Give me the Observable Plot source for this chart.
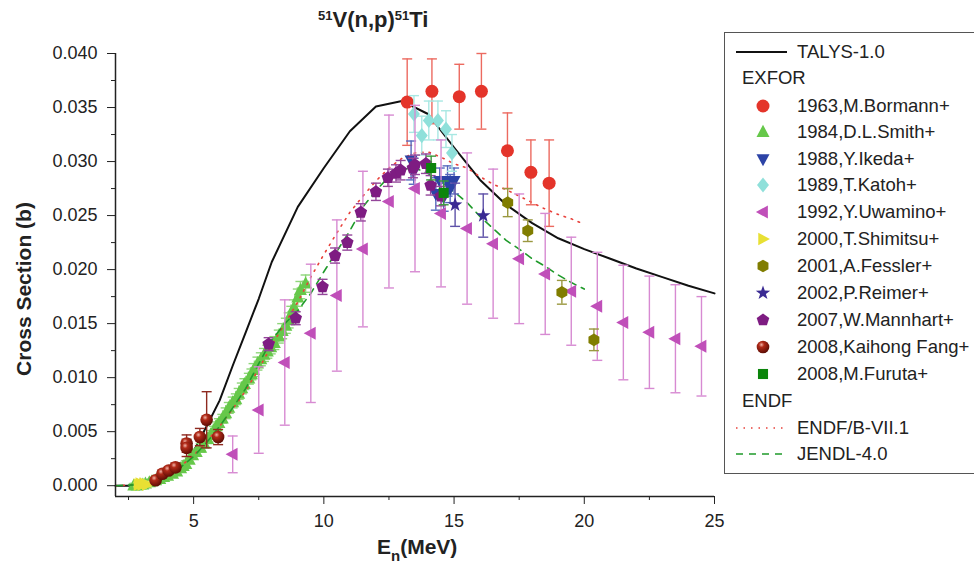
<!DOCTYPE html>
<html><head><meta charset="utf-8">
<script src="https://cdn.jsdelivr.net/npm/d3@7"></script>
<script src="https://cdn.jsdelivr.net/npm/@observablehq/plot@0.6"></script>
<style>
body{margin:0;background:#fff;font-family:"Liberation Sans",Arial,sans-serif;color:#222;}
#wrap{position:relative;width:974px;height:564px;overflow:hidden;background:#fff;}
#chart{position:absolute;left:0;top:0;}
.t{position:absolute;white-space:nowrap;font-weight:bold;font-size:21px;line-height:1;}
#legend{position:absolute;left:724px;top:32px;width:270px;height:442px;border:1px solid #555;box-sizing:border-box;}
.li{position:absolute;left:0;height:24px;font-size:18.5px;line-height:24px;white-space:nowrap;}
.li svg{position:absolute;top:0;}
.li span{position:absolute;left:72px;top:0;}
.hd{position:absolute;left:17px;font-size:18.5px;line-height:24px;}
</style></head>
<body><div id="wrap"><div id="chart"></div>
<div class="t" style="left:318px;top:9px;font-size:22px;"><sup style="font-size:13px;vertical-align:7px;line-height:0">51</sup>V(n,p)<sup style="font-size:13px;vertical-align:7px;line-height:0">51</sup>Ti</div>
<div class="t" style="left:23px;top:289px;transform:translate(-50%,-50%) rotate(-90deg);">Cross Section (b)</div>
<div class="t" style="left:377px;top:536px;">E<sub style="font-size:15px;vertical-align:-7px;line-height:0">n</sub>(MeV)</div>
<div id="legend"></div>
</div>
<script>
// ---------- axis ticks ----------
const xMajor = [5, 10, 15, 20, 25];
const xMinor = [2.5, 7.5, 12.5, 17.5, 22.5];
const yMajor = [0, 0.005, 0.010, 0.015, 0.020, 0.025, 0.030, 0.035, 0.040];
const yMinor = [0.0025, 0.0075, 0.0125, 0.0175, 0.0225, 0.0275, 0.0325, 0.0375];

// ---------- evaluated curves ----------
const talysE  = [2, 3, 3.5, 4, 4.5, 5, 5.5, 6, 6.5, 7, 7.5, 8, 9, 10, 11, 12, 13, 14, 15, 16, 17, 18, 19, 20, 21, 22, 23, 24, 25];
const talysXS = [0, 0.0000, 0.0002, 0.0008, 0.0018, 0.0032, 0.0055, 0.0079, 0.0111, 0.0142, 0.0173, 0.0207, 0.0258, 0.0294, 0.0328, 0.0351, 0.0356, 0.0344, 0.0313, 0.0283, 0.0260, 0.0243, 0.0229, 0.0219, 0.0210, 0.0201, 0.0193, 0.0185, 0.0178];

const endfE  = [2, 3, 3.5, 4, 4.5, 5, 5.5, 6, 6.5, 7, 7.5, 8, 8.5, 9, 9.5, 10, 10.5, 11, 11.5, 12, 12.5, 13, 13.5, 14, 14.5, 15, 15.5, 16, 16.5, 17, 18, 18.5, 19, 19.5, 20];
const endfXS = [0, 0.0001, 0.0004, 0.0010, 0.0018, 0.0028, 0.0041, 0.0055, 0.0071, 0.0088, 0.0108, 0.0130, 0.0150, 0.0170, 0.0193, 0.0214, 0.0234, 0.0253, 0.0268, 0.0282, 0.0294, 0.0303, 0.0308, 0.0309, 0.0304, 0.0298, 0.0294, 0.0286, 0.0279, 0.0274, 0.0262, 0.0256, 0.0251, 0.0247, 0.0242];

const jendlE  = [2, 3, 3.5, 4, 4.5, 5, 5.5, 6, 6.5, 7, 7.5, 8, 8.5, 9, 9.5, 10, 10.5, 11, 11.5, 12, 12.5, 13, 13.5, 14, 14.5, 15, 15.5, 16, 16.5, 17, 17.5, 18, 18.5, 19, 19.5, 20];
const jendlXS = [0, 0.0001, 0.0004, 0.0010, 0.0017, 0.0027, 0.0040, 0.0055, 0.0072, 0.0090, 0.0113, 0.0135, 0.0150, 0.0162, 0.0178, 0.0198, 0.0217, 0.0236, 0.0258, 0.0273, 0.0286, 0.0293, 0.0294, 0.0289, 0.0280, 0.0272, 0.0262, 0.0249, 0.0238, 0.0227, 0.0219, 0.0210, 0.0203, 0.0195, 0.0188, 0.0182];

// ---------- EXFOR data: [E (MeV), sigma (b), dsigma (b)] ----------
const bormann = [[13.2,0.0355,0.0040],[14.15,0.0365,0.0030],[15.2,0.0360,0.0030],[16.05,0.0365,0.0035],[17.05,0.0310,0.0035],[17.95,0.0290,0.0030],[18.65,0.0280,0.0040]];
// D.L. Smith: [E, sigma, dsigma, dE]
const smith = [[2.7,0.0000,0.0002,0.12],[2.83,0.0000,0.0002,0.12],[2.95,0.0001,0.0002,0.12],[3.05,0.0001,0.0002,0.12],[3.15,0.0002,0.0002,0.12],[3.3,0.0003,0.0002,0.12],[3.4,0.0004,0.0002,0.12],[3.54,0.0005,0.0002,0.12],[3.7,0.0006,0.0002,0.12],[3.85,0.0008,0.0003,0.12],[4.0,0.0009,0.0003,0.12],[4.19,0.0011,0.0003,0.12],[4.35,0.0013,0.0003,0.12],[4.5,0.0016,0.0003,0.12],[4.6,0.0018,0.0003,0.12],[4.7,0.0020,0.0003,0.12],[4.83,0.0024,0.0003,0.12],[4.96,0.0028,0.0003,0.12],[5.1,0.0031,0.0003,0.12],[5.27,0.0035,0.0004,0.12],[5.4,0.0039,0.0004,0.12],[5.54,0.0043,0.0004,0.12],[5.65,0.0047,0.0004,0.12],[5.77,0.0051,0.0004,0.12],[5.87,0.0055,0.0004,0.12],[5.97,0.0058,0.0004,0.12],[6.1,0.0062,0.0004,0.12],[6.23,0.0067,0.0005,0.12],[6.35,0.0072,0.0005,0.12],[6.5,0.0077,0.0005,0.12],[6.62,0.0080,0.0005,0.12],[6.73,0.0085,0.0005,0.12],[6.85,0.0090,0.0005,0.12],[6.95,0.0094,0.0005,0.12],[7.12,0.0099,0.0005,0.12],[7.22,0.0103,0.0005,0.12],[7.3,0.0107,0.0006,0.12],[7.45,0.0113,0.0006,0.12],[7.58,0.0117,0.0006,0.12],[7.7,0.0121,0.0006,0.12],[7.83,0.0124,0.0006,0.12],[7.96,0.0128,0.0006,0.12],[8.1,0.0132,0.0006,0.12],[8.27,0.0138,0.0006,0.12],[8.4,0.0143,0.0007,0.12],[8.54,0.0148,0.0007,0.12],[8.65,0.0153,0.0007,0.12],[8.75,0.0159,0.0007,0.12],[8.85,0.0165,0.0007,0.12],[9.0,0.0174,0.0008,0.12],[9.1,0.0181,0.0008,0.12],[9.3,0.0187,0.0008,0.12]];
const ikeda = [[13.35,0.0301,0.0018],[13.45,0.0291,0.0012],[14.45,0.0282,0.0012],[14.75,0.0282,0.0014],[15.0,0.0282,0.0012],[14.3,0.0270,0.0015],[14.6,0.0267,0.0013],[14.85,0.0275,0.0013]];
const katoh = [[13.46,0.0344,0.0017],[13.76,0.0324,0.0018],[14.03,0.0338,0.0018],[14.38,0.0338,0.0018],[14.69,0.0330,0.0017],[14.92,0.0308,0.0017]];
const uwamino = [[6.5,0.0029,0.0017],[7.5,0.0070,0.0040],[8.5,0.0114,0.0058],[9.5,0.0141,0.0064],[10.5,0.0176,0.0070],[11.5,0.0219,0.0072],[12.5,0.0263,0.0080],[13.5,0.0275,0.0077],[14.5,0.0252,0.0068],[15.5,0.0238,0.0070],[16.5,0.0224,0.0069],[17.5,0.0210,0.0060],[18.5,0.0196,0.0056],[19.5,0.0180,0.0050],[20.5,0.0166,0.0050],[21.5,0.0151,0.0053],[22.5,0.0142,0.0052],[23.5,0.0136,0.0050],[24.5,0.0129,0.0046]];
const shimitsu = [[2.88,0.0001,0.0002],[2.95,0.0002,0.0003],[3.02,0.0001,0.0003],[3.1,0.0002,0.0002],[3.2,0.0001,0.0002]];
const fessler = [[17.06,0.0262,0.0013],[17.83,0.0236,0.0010],[19.14,0.0179,0.0011],[20.37,0.0135,0.0010]];
const reimer = [[15.04,0.0260,0.0020],[16.12,0.0250,0.0020]];
const mannhart = [[7.88,0.0131,0.0006],[8.92,0.0155,0.0006],[9.95,0.0184,0.0007],[10.43,0.0213,0.0007],[10.9,0.0225,0.0007],[11.42,0.0253,0.0008],[12.0,0.0272,0.0008],[12.46,0.0285,0.0008],[12.77,0.0289,0.0008],[12.95,0.0292,0.0009],[13.42,0.0294,0.0009],[13.5,0.0297,0.0009],[13.92,0.0298,0.0009],[14.1,0.0278,0.0009],[14.5,0.0268,0.0009]];
const kaihong = [[3.54,0.0005,0.0002],[3.8,0.0011,0.0003],[4.04,0.0014,0.0003],[4.3,0.0017,0.0004],[4.73,0.0039,0.0008],[4.73,0.0035,0.0008],[5.24,0.0045,0.0008],[5.5,0.0061,0.0026],[5.94,0.0045,0.0007]];
const furuta = [[14.12,0.0294,0.0011],[14.6,0.0271,0.0011]];

// ---------- symbols ----------
function poly(pts){return {draw(ctx,size){const s=Math.sqrt(size/Math.PI);pts.forEach(([a,b],i)=>i?ctx.lineTo(a*s,b*s):ctx.moveTo(a*s,b*s));ctx.closePath();}};}
const symUp = poly([[0,-1.1],[1.0,0.75],[-1.0,0.75]]);
const symDown = poly([[0,1.1],[1.0,-0.75],[-1.0,-0.75]]);
const symLeft = poly([[-1.1,0],[0.75,-1.0],[0.75,1.0]]);
const symRight = poly([[1.1,0],[-0.75,-1.0],[-0.75,1.0]]);
const symDiamond = poly([[0,-1.2],[0.95,0],[0,1.2],[-0.95,0]]);
const symSquare = poly([[-0.8,-0.8],[0.8,-0.8],[0.8,0.8],[-0.8,0.8]]);
const symPent = poly(d3.range(5).map(i=>{const a=-Math.PI/2+i*2*Math.PI/5;return [1.05*Math.cos(a),1.05*Math.sin(a)];}));
const symHex = poly(d3.range(6).map(i=>{const a=-Math.PI/2+i*Math.PI/3;return [Math.cos(a),Math.sin(a)];}));
const symStar = poly(d3.range(10).map(i=>{const a=-Math.PI/2+i*Math.PI/5;const r=i%2?0.48:1.2;return [r*Math.cos(a),r*Math.sin(a)];}));
const symCircle = d3.symbolCircle;
const symCap = {draw(ctx,size){const s=Math.sqrt(size/Math.PI);ctx.moveTo(-s,0);ctx.lineTo(s,0);}};
const symVCap = {draw(ctx,size){const s=Math.sqrt(size/Math.PI);ctx.moveTo(0,-s);ctx.lineTo(0,s);}};

const series = [
  {name:"1963,M.Bormann+", data:bormann, color:"#e4342a", bar:"#ec6a60", sym:symCircle, r:6.5},
  {name:"1984,D.L.Smith+", data:smith, color:"#66c84a", bar:"#8fd67a", sym:symUp, r:6.5},
  {name:"1988,Y.Ikeda+", data:ikeda, color:"#2c43a6", bar:"#5668bd", sym:symDown, r:6.5},
  {name:"1989,T.Katoh+", data:katoh, color:"#8fe0da", bar:"#a8e8e3", sym:symDiamond, r:6.3},
  {name:"1992,Y.Uwamino+", data:uwamino, color:"#c04fb9", bar:"#d78ad2", sym:symLeft, r:6.5},
  {name:"2000,T.Shimitsu+", data:shimitsu, color:"#e8e034", bar:"#ede36a", sym:symRight, r:6.3},
  {name:"2001,A.Fessler+", data:fessler, color:"#807d00", bar:"#9a9840", sym:symHex, r:6.3},
  {name:"2002,P.Reimer+", data:reimer, color:"#3a2a93", bar:"#5e51a8", sym:symStar, r:6.3},
  {name:"2007,W.Mannhart+", data:mannhart, color:"#7e1c82", bar:"#94469a", sym:symPent, r:6.3},
  {name:"2008,Kaihong Fang+", data:kaihong, color:"url(#ball)", bar:"#8e2a20", sym:symCircle, r:6.3},
  {name:"2008,M.Furuta+", data:furuta, color:"#0b850b", bar:"#3a9a3a", sym:symSquare, r:6.3}
];

function seriesMarks(s){
  const m = [
    Plot.ruleX(s.data,{x:d=>d[0],y1:d=>d[1]-d[2],y2:d=>d[1]+d[2],stroke:s.bar,strokeWidth:1.4}),
    Plot.dot(s.data,{x:d=>d[0],y:d=>d[1]+d[2],symbol:symCap,r:5,stroke:s.bar,strokeWidth:1.4,fill:"none"}),
    Plot.dot(s.data,{x:d=>d[0],y:d=>d[1]-d[2],symbol:symCap,r:5,stroke:s.bar,strokeWidth:1.4,fill:"none"})
  ];
  if (s.data[0].length > 3) {
    m.push(Plot.ruleY(s.data,{y:d=>d[1],x1:d=>d[0]-d[3],x2:d=>d[0]+d[3],stroke:s.bar,strokeWidth:1.2}));
    m.push(Plot.dot(s.data,{x:d=>d[0]-d[3],y:d=>d[1],symbol:symVCap,r:3,stroke:s.bar,strokeWidth:1.2,fill:"none"}));
    m.push(Plot.dot(s.data,{x:d=>d[0]+d[3],y:d=>d[1],symbol:symVCap,r:3,stroke:s.bar,strokeWidth:1.2,fill:"none"}));
  }
  m.push(Plot.dot(s.data,{x:d=>d[0],y:d=>d[1],symbol:s.sym,r:s.r,fill:s.color,stroke:"none"}));
  return m;
}

const talys = talysE.map((e,i)=>({e, xs:talysXS[i]}));
const endf = endfE.map((e,i)=>({e, xs:endfXS[i]}));
const jendl = jendlE.map((e,i)=>({e, xs:jendlXS[i]}));

const smithS = series[1];
const others = series.filter(s=>s!==smithS);

const plot = Plot.plot({
  width:974, height:564,
  marginLeft:115, marginRight:260, marginTop:53, marginBottom:68,
  x:{domain:[2,25]},
  y:{domain:[-0.001,0.040]},
  style:{fontFamily:"'Liberation Sans', Arial, sans-serif", fontSize:"18px", background:"white", color:"#222", overflow:"visible"},
  marks:[
    Plot.line(talys,{x:"e",y:"xs",stroke:"#111",strokeWidth:2}),
    ...seriesMarks(smithS),
    Plot.line(endf,{x:"e",y:"xs",stroke:"#e8403a",strokeWidth:1.6,strokeDasharray:"1.5,6"}),
    Plot.line(jendl,{x:"e",y:"xs",stroke:"#1f9a2a",strokeWidth:1.6,strokeDasharray:"7,6"}),
    ...others.flatMap(seriesMarks),
    Plot.ruleX([2],{y1:-0.001,y2:0.040,stroke:"#222",strokeWidth:1.5}),
    Plot.ruleY([-0.001],{x1:2,x2:25,stroke:"#222",strokeWidth:1.5}),
    Plot.axisY({ticks:yMajor,tickSize:8,tickPadding:10,tickFormat:d3.format(".3f"),label:null,fontSize:18,stroke:"#222"}),
    Plot.axisY({ticks:yMinor,tickSize:4,tickFormat:()=>"",label:null,stroke:"#222"}),
    Plot.axisX({ticks:xMajor,tickSize:8,tickPadding:10,tickFormat:d=>String(d),label:null,fontSize:18,stroke:"#222"}),
    Plot.axisX({ticks:xMinor,tickSize:4,tickFormat:()=>"",label:null,stroke:"#222"})
  ]
});

// gradient for the 3-D balls
const defsHTML = '<radialGradient id="ball" cx="0.38" cy="0.32" r="0.7"><stop offset="0" stop-color="#f2b4a8"/><stop offset="0.3" stop-color="#b02a18"/><stop offset="1" stop-color="#5a0c04"/></radialGradient>';
const ns = "http://www.w3.org/2000/svg";
const defs = document.createElementNS(ns,"defs");
defs.innerHTML = defsHTML;
plot.insertBefore(defs, plot.firstChild);
document.getElementById("chart").appendChild(plot);

// ---------- legend ----------
const leg = document.getElementById("legend");
const top0 = 32;
function symPath(sym, r){const p=d3.path();sym.draw(p,Math.PI*r*r);return p.toString();}
function addRow(cy, svgInner, label){
  const div=document.createElement("div");div.className="li";div.style.top=(cy-top0-12-1)+"px";div.style.width="260px";
  div.innerHTML='<svg width="70" height="24" style="left:0">'+svgInner+'</svg><span>'+label+'</span>';
  leg.appendChild(div);
}
function addHead(cy,label){const d=document.createElement("div");d.className="hd";d.style.top=(cy-top0-12-1)+"px";d.textContent=label;leg.appendChild(d);}
addRow(52,'<line x1="11" x2="62" y1="12" y2="12" stroke="#111" stroke-width="2"/>',"TALYS-1.0");
addHead(78,"EXFOR");
const rowY=[106,132,158.5,185,212,239,266,293,320,347,374];
series.forEach((s,i)=>{
  const fill = s.color.startsWith("url") ? "url(#ballL)" : s.color;
  const extra = s.color.startsWith("url") ? '<defs><radialGradient id="ballL" cx="0.38" cy="0.32" r="0.7"><stop offset="0" stop-color="#f2b4a8"/><stop offset="0.3" stop-color="#b02a18"/><stop offset="1" stop-color="#5a0c04"/></radialGradient></defs>' : '';
  addRow(rowY[i], extra+'<path transform="translate(38,12)" d="'+symPath(s.sym,s.r)+'" fill="'+fill+'"/>', s.name);
});
addHead(401,"ENDF");
addRow(428,'<line x1="11" x2="62" y1="12" y2="12" stroke="#e8403a" stroke-width="1.6" stroke-dasharray="1.5,6"/>',"ENDF/B-VII.1");
addRow(454,'<line x1="11" x2="62" y1="12" y2="12" stroke="#1f9a2a" stroke-width="1.6" stroke-dasharray="7,6"/>',"JENDL-4.0");
</script>
</body></html>
